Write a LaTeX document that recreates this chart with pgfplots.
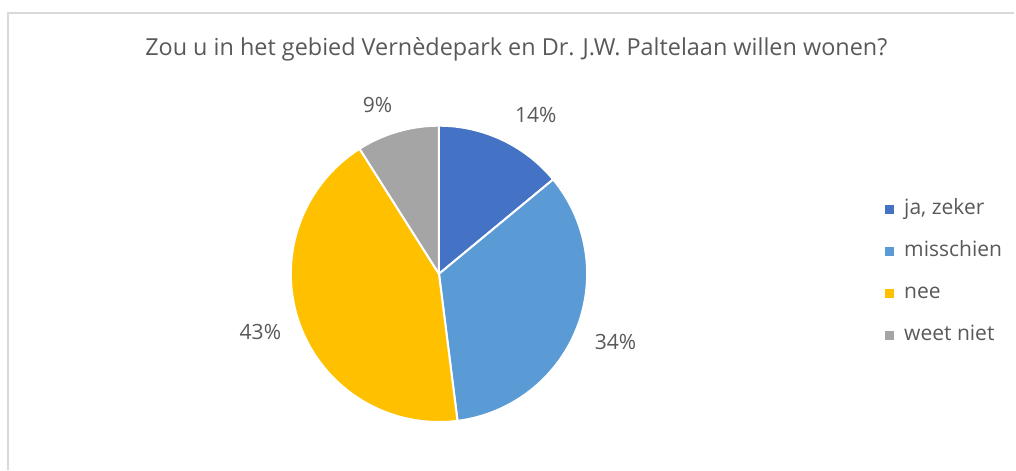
\documentclass[border=0pt]{standalone}
\usepackage{pgfplots}
\pgfplotsset{compat=1.18}
\usepackage{pgfplotstable}
\usepackage{fontspec}
\setmainfont{Open Sans}
\definecolor{txt}{HTML}{595959}
\definecolor{c1}{HTML}{4472C4}
\definecolor{c2}{HTML}{5B9BD5}
\definecolor{c3}{HTML}{FFC000}
\definecolor{c4}{HTML}{A5A5A5}
\definecolor{frame}{HTML}{D9D9D9}
% share per answer (percent)
\pgfplotstableread{
answer value
ja 14
misschien 34
nee 43
weet 9
}\piedata
\pgfplotstablegetelem{0}{value}\of\piedata \let\va\pgfplotsretval
\pgfplotstablegetelem{1}{value}\of\piedata \let\vb\pgfplotsretval
\pgfplotstablegetelem{2}{value}\of\piedata \let\vc\pgfplotsretval
\pgfplotstablegetelem{3}{value}\of\piedata \let\vd\pgfplotsretval
\pgfmathsetmacro\aA{90}
\pgfmathsetmacro\aB{\aA-3.6*\va}
\pgfmathsetmacro\aC{\aB-3.6*\vb}
\pgfmathsetmacro\aD{\aC-3.6*\vc}
\pgfmathsetmacro\aE{\aD-3.6*\vd}
\def\cx{440}\def\cy{196.5}\def\R{148.5}
\newcommand\fs{\fontsize{15.8}{19}\selectfont}
\newcommand\ft{\fontsize{17.6}{21}\selectfont}
\begin{document}
\begin{tikzpicture}
\begin{axis}[
  scale only axis, width=762pt, height=353.25pt,
  xmin=0, xmax=1016, ymin=0, ymax=471,
  hide axis, clip=false,
  legend cell align=left,
  legend image code/.code={\fill[#1,draw=none] (0pt,-3.4pt) rectangle (6.8pt,3.4pt);},
  legend style={draw=none, fill=none, at={(axis cs:883,471-196)}, anchor=north west,
    font=\fs, text=txt, row sep=15.6pt,
    nodes={text height=12pt, text depth=4pt, inner xsep=7.5pt, inner ysep=0pt}},
]
\addplot[draw=none, forget plot] coordinates {(0,0) (1016,471)};
\addplot[frame, line width=1.5pt, forget plot] coordinates {(8,0) (8,458) (1016,458)};
\addplot[fill=c1, draw=white, line width=1.5pt, domain=\aB:\aA, samples=60, variable=\t]
  ({\cx+\R*cos(t)}, {\cy+\R*sin(t)}) -- (\cx,\cy) -- cycle;
\addlegendentry{ja, zeker}
\addplot[fill=c2, draw=white, line width=1.5pt, domain=\aC:\aB, samples=80, variable=\t]
  ({\cx+\R*cos(t)}, {\cy+\R*sin(t)}) -- (\cx,\cy) -- cycle;
\addlegendentry{misschien}
\addplot[fill=c3, draw=white, line width=1.5pt, domain=\aD:\aC, samples=90, variable=\t]
  ({\cx+\R*cos(t)}, {\cy+\R*sin(t)}) -- (\cx,\cy) -- cycle;
\addlegendentry{nee}
\addplot[fill=c4, draw=white, line width=1.5pt, domain=\aE:\aD, samples=40, variable=\t]
  ({\cx+\R*cos(t)}, {\cy+\R*sin(t)}) -- (\cx,\cy) -- cycle;
\addlegendentry{weet niet}
\node[anchor=base, text=txt, font=\ft, inner sep=0pt] at (axis cs:517.5,415) {Zou u in het gebied Vernèdepark en Dr. J.W. Paltelaan willen wonen?};
\node[anchor=base, text=txt, font=\fs, inner sep=0pt] at (axis cs:537,348) {14\%};
\node[anchor=base, text=txt, font=\fs, inner sep=0pt] at (axis cs:617,121) {34\%};
\node[anchor=base, text=txt, font=\fs, inner sep=0pt] at (axis cs:261,131) {43\%};
\node[anchor=base, text=txt, font=\fs, inner sep=0pt] at (axis cs:378.5,358) {9\%};
\end{axis}
\end{tikzpicture}
\end{document}
